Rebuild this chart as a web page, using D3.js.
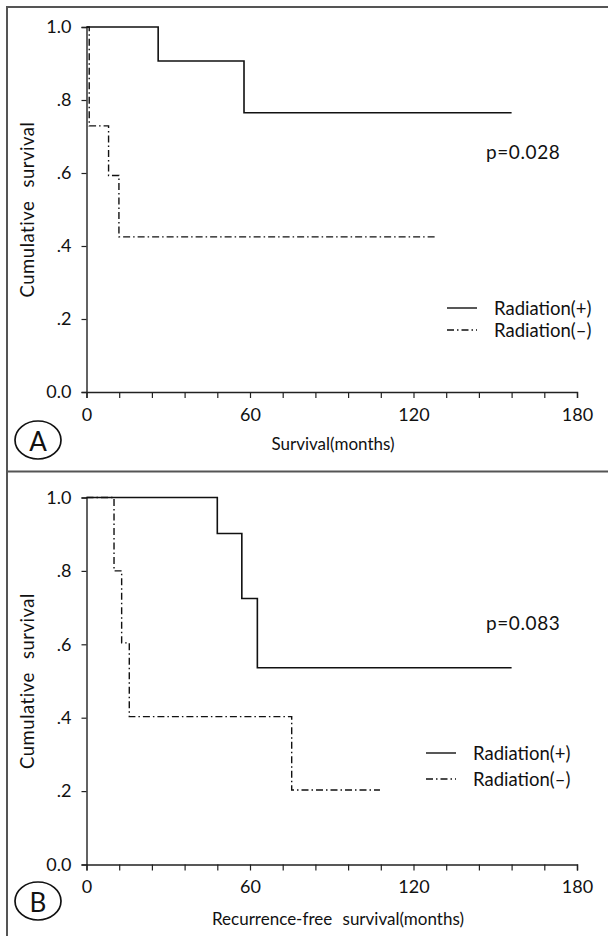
<!DOCTYPE html>
<html>
<head>
<meta charset="utf-8">
<script src="https://cdn.jsdelivr.net/npm/d3@7"></script>
<style>
  body { margin: 0; background: #fff; }
  svg text { font-family: Lato, "Open Sans", sans-serif; fill: #111; }
</style>
</head>
<body>
<div id="chart"></div>
<script>
// Kaplan-Meier step data (months, cumulative survival)
var aPlusMonths  = [0, 26.3, 57.8, 156];
var aPlusSurv    = [1.0, 0.907, 0.765, 0.765];
var aMinusMonths = [0, 1, 8.1, 11.9, 128.6];
var aMinusSurv   = [1.0, 0.729, 0.593, 0.425, 0.425];

var bPlusMonths  = [0, 48, 57, 62.7, 156];
var bPlusSurv    = [1.0, 0.902, 0.725, 0.536, 0.536];
var bMinusMonths = [0, 10.1, 12.9, 15.7, 75.3, 107.7];
var bMinusSurv   = [1.0, 0.8, 0.604, 0.403, 0.203, 0.203];

var xMinorTicks  = [0, 12, 24, 36, 48, 60, 72, 84, 96, 108, 120, 132, 144, 156, 168, 180];
var xTickLabels  = [0, 60, 120, 180];
var yTicks       = [0, 0.2, 0.4, 0.6, 0.8, 1.0];
var yTickLabels  = ["0.0", ".2", ".4", ".6", ".8", "1.0"];
var legendLabels = ["Radiation(+)", "Radiation(\u2013)"];

var width = 608, height = 936;
var dashDot = "7,3,1.5,3";

var svg = d3.select("#chart").append("svg")
    .attr("width", width)
    .attr("height", height);

// frame lines
svg.append("path")
    .attr("d", "M7,936 V7 H608 M7,471.5 H608")
    .attr("fill", "none")
    .attr("stroke", "#555")
    .attr("stroke-width", 2);

function zip(ms, ss) {
    var out = [];
    for (var i = 0; i < ms.length; i++) out.push([ms[i], ss[i]]);
    return out;
}

function buildPanel(opt) {
    var x = d3.scaleLinear().domain([0, 180]).range([86.5, 577]);
    var y = d3.scaleLinear().domain([0, 1]).range([opt.y0, opt.y1]);

    var g = svg.append("g");

    var xAxisGen = d3.axisBottom(x)
        .tickValues(xMinorTicks)
        .tickSize(6)
        .tickPadding(10)
        .tickFormat(function(d){ return xTickLabels.indexOf(d) >= 0 ? d : ""; });
    var xAxis = g.append("g")
        .attr("transform", "translate(0," + opt.y0 + ")")
        .call(xAxisGen);

    var yAxisGen = d3.axisLeft(y)
        .tickValues(yTicks)
        .tickSize(5)
        .tickPadding(10)
        .tickFormat(function(d, i){ return yTickLabels[i]; });
    var yAxis = g.append("g")
        .attr("transform", "translate(" + x(0) + ",0)")
        .call(yAxisGen);

    [xAxis, yAxis].forEach(function(a){
        a.select(".domain").attr("stroke", "#222").attr("stroke-width", 1.4);
        a.selectAll(".tick line").attr("stroke", "#222").attr("stroke-width", 1.2);
        a.selectAll(".tick text").attr("font-size", 18).attr("fill", "#111");
    });

    var line = d3.line()
        .x(function(d){ return x(d[0]); })
        .y(function(d){ return y(d[1]); })
        .curve(d3.curveStepAfter);

    g.append("path")
        .datum(zip(opt.plusM, opt.plusS))
        .attr("d", line)
        .attr("fill", "none")
        .attr("stroke", "#111")
        .attr("stroke-width", 1.6);

    g.append("path")
        .datum(zip(opt.minusM, opt.minusS))
        .attr("d", line)
        .attr("fill", "none")
        .attr("stroke", "#111")
        .attr("stroke-width", 1.4)
        .attr("stroke-dasharray", dashDot);

    // axis titles
    g.append("text")
        .attr("x", opt.xTitleX)
        .attr("y", opt.xTitleY)
        .attr("text-anchor", "middle")
        .attr("dominant-baseline", "central")
        .attr("font-size", 17)
        .style("word-spacing", opt.wordSpace)
        .text(opt.xTitle);

    g.append("text")
        .attr("transform", "translate(27," + (y(0.5)) + ") rotate(-90)")
        .attr("text-anchor", "middle")
        .attr("dominant-baseline", "central")
        .attr("font-size", 18.5)
        .style("letter-spacing", "0.5px")
        .style("word-spacing", "8px")
        .text("Cumulative survival");

    // p value
    g.append("text")
        .attr("x", 486)
        .attr("y", opt.pY)
        .attr("dominant-baseline", "central")
        .attr("font-size", 19)
        .style("letter-spacing", "0.6px")
        .text(opt.pText);

    // legend
    opt.legendY.forEach(function(ly, i){
        g.append("line")
            .attr("x1", opt.legX1).attr("x2", opt.legX1 + 30)
            .attr("y1", ly).attr("y2", ly)
            .attr("stroke", "#111")
            .attr("stroke-width", 1.4)
            .attr("stroke-dasharray", i === 0 ? null : dashDot);
        g.append("text")
            .attr("x", opt.legX1 + 47)
            .attr("y", ly)
            .attr("dominant-baseline", "central")
            .attr("font-size", 18.5)
            .text(legendLabels[i]);
    });

    // panel letter
    g.append("ellipse")
        .attr("cx", opt.letterX).attr("cy", opt.letterY)
        .attr("rx", 23).attr("ry", 19)
        .attr("fill", "none")
        .attr("stroke", "#111")
        .attr("stroke-width", 1.7);
    g.append("text")
        .attr("x", opt.letterX).attr("y", opt.letterY + 1)
        .attr("text-anchor", "middle")
        .attr("dominant-baseline", "central")
        .attr("font-size", 26)
        .text(opt.letter);
}

buildPanel({
    y0: 392, y1: 27,
    plusM: aPlusMonths, plusS: aPlusSurv,
    minusM: aMinusMonths, minusS: aMinusSurv,
    xTitle: "Survival(months)", xTitleX: 333, xTitleY: 443, wordSpace: "0px",
    pText: "p=0.028", pY: 151,
    legendY: [308, 330], legX1: 447,
    letter: "A", letterX: 38, letterY: 440
});

buildPanel({
    y0: 864.5, y1: 497.5,
    plusM: bPlusMonths, plusS: bPlusSurv,
    minusM: bMinusMonths, minusS: bMinusSurv,
    xTitle: "Recurrence-free survival(months)", xTitleX: 338, xTitleY: 918, wordSpace: "6px",
    pText: "p=0.083", pY: 622,
    legendY: [753, 779], legX1: 426,
    letter: "B", letterX: 38, letterY: 901
});
</script>
</body>
</html>
